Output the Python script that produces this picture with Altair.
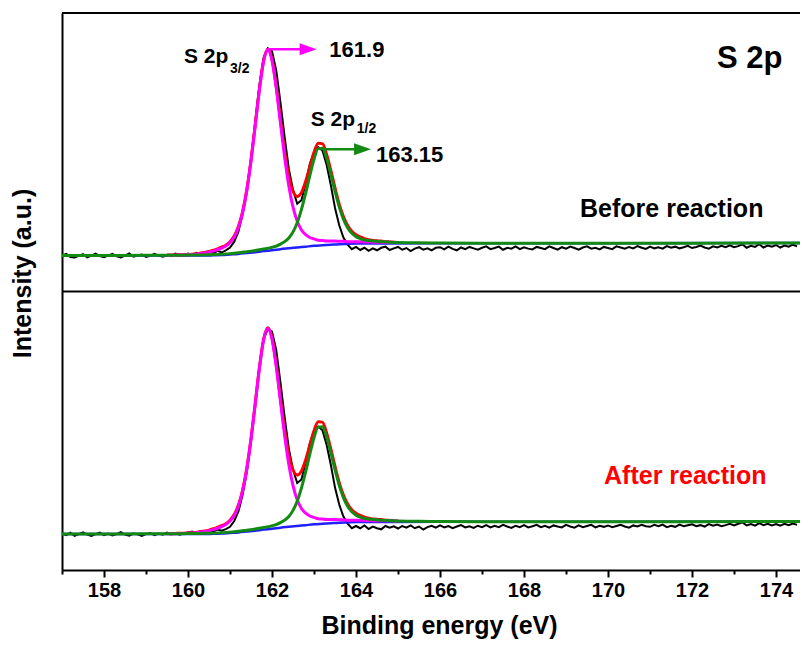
import altair as alt
import numpy as np
import pandas as pd

FONT = "Liberation Sans"
X_MIN, X_MAX = 157.0, 174.57
PANELS = ["Before reaction", "After reaction"]
PANEL_OFFSET = {"Before reaction": 100.0, "After reaction": 0.0}

# raw spectra, 0.1 eV steps starting at 157.0 eV
RAW_BEFORE = [
    12.9, 13.5, 12.4, 12.2, 12.8, 13.4, 12.3, 12.9, 13.6, 12.7,
    12.3, 12.9, 13.5, 12.6, 12.2, 12.9, 13.7, 12.5, 12.9, 13.3,
    12.4, 12.8, 13.5, 12.9, 12.5, 13.1, 12.7, 13.6, 13.2, 12.8,
    13.6, 13.1, 13.9, 13.3, 14.2, 14.4, 13.7, 14.6, 14.0, 14.8,
    15.8, 17.9, 21.5, 27.8, 36.0, 47.5, 60.8, 74.0, 84.0, 87.3,
    86.2, 79.5, 68.0, 55.5, 44.0, 36.5, 31.5, 32.8, 38.6, 45.8,
    50.0, 51.8, 50.6, 45.5, 38.2, 30.0, 23.8, 19.4, 16.8, 15.2,
    16.0, 14.9, 15.7, 14.6, 15.5, 14.8, 15.7, 16.1, 14.9, 15.5,
    16.0, 15.0, 15.6, 14.5, 15.4, 15.9, 15.0, 15.5, 14.8, 15.7,
    15.9, 15.1, 16.1, 15.3, 14.8, 15.8, 15.2, 16.0, 15.5, 15.0,
    15.7, 16.2, 15.2, 15.6, 16.1, 15.0, 15.7, 15.4, 16.2, 15.2,
    15.9, 15.4, 15.1, 16.0, 15.6, 15.2, 16.2, 15.6, 15.0, 15.9,
    15.4, 16.1, 15.6, 15.0, 15.8, 16.2, 15.4, 15.7, 15.1, 16.0,
    15.6, 15.2, 16.2, 15.8, 15.4, 16.0, 15.5, 16.3, 15.7, 15.3,
    16.1, 15.5, 15.9, 15.4, 16.3, 15.7, 16.1, 15.5, 15.9, 16.4,
    15.6, 16.0, 16.5, 15.8, 15.4, 16.2, 15.8, 16.4, 15.9, 16.6,
    15.9, 16.3, 16.9, 15.7, 16.4, 16.0, 17.0, 15.8, 16.5, 16.1,
    16.7, 15.8, 16.5, 16.1, 16.8, 16.2,
]
RAW_AFTER = [
    13.1, 12.5, 13.4, 12.3, 12.9, 13.5, 12.7, 12.2, 12.9, 13.4,
    12.5, 13.1, 12.4, 12.9, 13.6, 12.7, 12.3, 13.1, 12.8, 12.2,
    12.9, 13.3, 12.5, 13.1, 12.7, 13.4, 12.8, 13.3, 12.7, 13.1,
    13.5, 13.8, 13.2, 14.0, 13.6, 14.3, 13.8, 14.5, 14.1, 14.7,
    15.5, 17.6, 21.0, 27.0, 35.2, 46.5, 59.8, 73.0, 83.0, 86.4,
    85.6, 79.0, 67.5, 55.0, 43.6, 36.0, 31.2, 32.5, 38.4, 45.5,
    49.8, 51.5, 50.2, 45.0, 37.8, 29.6, 23.5, 19.2, 16.6, 15.0,
    15.8, 15.0, 16.0, 14.7, 15.6, 15.0, 14.6, 15.8, 15.2, 15.7,
    14.9, 15.8, 15.2, 16.0, 15.0, 15.6, 14.5, 15.4, 15.9, 15.2,
    16.0, 15.3, 15.8, 15.0, 15.6, 16.1, 15.3, 15.7, 15.1, 15.9,
    15.4, 16.1, 15.3, 15.9, 15.4, 16.2, 15.6, 15.1, 15.9, 15.4,
    16.1, 15.3, 15.7, 16.2, 15.4, 15.9, 15.2, 16.0, 15.6, 15.3,
    16.2, 15.6, 15.2, 16.0, 15.4, 15.8, 16.2, 15.3, 15.9, 15.5,
    16.0, 15.4, 15.8, 16.2, 15.6, 15.2, 16.0, 15.6, 16.2, 15.7,
    15.5, 16.2, 15.7, 16.3, 15.4, 15.9, 15.5, 16.3, 15.7, 16.1,
    16.4, 15.7, 16.1, 15.6, 16.5, 15.9, 16.3, 15.7, 16.1, 16.6,
    16.0, 16.6, 17.1, 16.0, 16.5, 15.9, 16.8, 16.1, 16.6, 16.0,
    16.5, 15.9, 16.6, 16.1, 16.7, 16.2,
]

# fitted curves (same fit shape in both panels)
FIT_X = [round(159.5 + 0.1 * i, 1) for i in range(56)]  # 159.5 ... 165.0
P32_FIT = [
    13.0, 13.0, 13.05, 13.1, 13.1, 13.2, 13.3, 13.4, 13.6, 13.8,
    14.1, 14.5, 15.0, 15.6, 16.3, 17.6, 19.5, 22.9, 28.3, 36.2,
    46.9, 59.5, 72.4, 82.6, 86.7, 82.9, 73.1, 60.6, 48.3, 37.9,
    30.3, 25.2, 22.1, 20.4, 19.4, 18.9, 18.4, 18.3, 18.1, 18.1,
    18.1, 18.0, 18.0, 17.9, 17.9, 17.9, 17.9, 17.8, 17.8, 17.7,
    17.7, 17.7, 17.7, 17.7, 17.6, 17.6,
]
ENV_FIT = [
    13.1, 13.1, 13.15, 13.2, 13.2, 13.3, 13.4, 13.5, 13.8, 14.0,
    14.3, 14.8, 15.3, 15.9, 16.6, 17.9, 19.9, 23.3, 28.7, 36.6,
    47.2, 59.8, 72.7, 82.9, 87.0, 83.3, 73.7, 61.8, 50.3, 41.3,
    36.0, 34.1, 35.5, 39.5, 44.8, 50.0, 53.2, 53.1, 49.2, 43.5,
    37.2, 31.4, 26.9, 23.7, 21.6, 20.4, 19.6, 19.0, 18.6, 18.3,
    18.2, 18.1, 17.9, 17.8, 17.7, 17.6,
]
P12_X = [157.0, 158.0, 159.0, 159.5, 160.0, 160.5, 161.0, 161.2, 161.4, 161.5,
         161.6, 161.7, 161.8, 161.9, 162.0, 162.1, 162.2, 162.3, 162.4, 162.5,
         162.6, 162.7, 162.8, 162.9, 163.0, 163.1, 163.2, 163.3, 163.4, 163.5,
         163.6, 163.7, 163.8, 163.9, 164.0, 164.1, 164.2, 164.3, 164.4, 164.5,
         164.6, 164.8, 165.0, 165.5, 166.0, 167.0, 168.0, 170.0, 172.0, 174.0, 174.57]
P12_FIT = [12.9, 12.9, 13.0, 13.0, 13.1, 13.2, 13.6, 13.9, 14.3, 14.5,
           14.7, 15.0, 15.3, 15.5, 15.9, 16.3, 17.0, 17.9, 19.2, 21.4,
           24.7, 29.4, 35.2, 41.6, 47.5, 51.3, 51.4, 47.8, 42.2, 36.0,
           30.4, 26.0, 22.9, 20.9, 19.7, 19.0, 18.5, 18.3, 18.1, 18.0,
           17.9, 17.7, 17.6, 17.5, 17.4, 17.3, 17.3, 17.3, 17.3, 17.4, 17.4]
BG_X = [157.0, 160.4, 160.6, 160.8, 161.0, 161.2, 161.4, 161.6, 161.8, 162.0,
        162.2, 162.4, 162.6, 162.8, 163.0, 163.2, 163.4, 163.6, 163.8, 164.0,
        166.0, 170.0, 174.57]
BG_FIT = [12.9, 12.9, 13.0, 13.1, 13.3, 13.5, 13.8, 14.1, 14.5, 14.8,
          15.2, 15.5, 15.8, 16.1, 16.4, 16.6, 16.8, 17.0, 17.1, 17.2,
          17.3, 17.3, 17.4]

# annotations (data coordinates, top panel already offset)
ARROW_X = [161.87, 163.21]
ARROW_X2 = [162.8, 164.0]
ARROW_Y = [186.97, 151.06]
ARROW_HEAD_X = [162.86, 164.155]
ARROW_COL = ["#ff00ff", "#138a13"]

rows = []
for panel in PANELS:
    off = PANEL_OFFSET[panel]
    raw = RAW_BEFORE if panel == "Before reaction" else RAW_AFTER
    for i, v in enumerate(raw):
        rows.append({"panel": panel, "curve": "raw", "x": round(157.0 + 0.1 * i, 1), "y": v + off})
    for xs, ys, name in [(FIT_X, P32_FIT, "p32"), (FIT_X, ENV_FIT, "env"),
                         (P12_X, P12_FIT, "p12"), (BG_X, BG_FIT, "bg")]:
        for xv, yv in zip(xs, ys):
            rows.append({"panel": panel, "curve": name, "x": xv, "y": yv + off})
df = pd.DataFrame(rows)

x_axis = alt.Axis(
    title="Binding energy (eV)",
    values=list(range(157, 175)),
    labelExpr="datum.value % 2 == 0 ? datum.label : ''",
    tickSize={"condition": {"test": "datum.value % 2 == 0", "value": 7}, "value": 4},
    tickWidth=2, tickColor="black",
    domainColor="black", domainWidth=2,
    labelFont=FONT, labelFontSize=20, labelFontWeight="bold", labelColor="black",
    labelPadding=3, labelOverlap=False, labelFlush=False,
    titleFont=FONT, titleFontSize=25, titleFontWeight="bold", titleColor="black",
    titlePadding=13, titleX=377, grid=False,
)
y_axis = alt.Axis(
    title="Intensity (a.u.)", ticks=False, labels=False, grid=False,
    domainColor="black", domainWidth=2,
    titleFont=FONT, titleFontSize=25, titleFontWeight="bold", titleColor="black",
    titlePadding=27, titleY=260,
)
x_scale = alt.Scale(domain=[X_MIN, X_MAX], nice=False, zero=False)
y_scale = alt.Scale(domain=[0, 200], nice=False, zero=False)
x_enc = alt.X("x:Q", scale=x_scale, axis=x_axis)
y_enc = alt.Y("y:Q", scale=y_scale, axis=y_axis)


def curve(name, color, width, interp="linear"):
    return alt.Chart(df).transform_filter(alt.datum.curve == name).mark_line(
        color=color, strokeWidth=width, clip=True, interpolate=interp
    ).encode(x=x_enc, y=y_enc, detail="panel:N")


raw_l = curve("raw", "black", 2)
bg_l = curve("bg", "#1f1fff", 2.5, "monotone")
env_l = curve("env", "#ff0000", 3, "monotone")
p32_l = curve("p32", "#ff00ff", 3, "monotone")
p12_l = curve("p12", "#138a13", 3, "monotone")

frame = pd.DataFrame({"x": [X_MIN, X_MIN], "x2": [X_MAX, X_MAX], "y": [200.0, 100.0]})
frame_l = alt.Chart(frame).mark_rule(color="black", strokeWidth=2).encode(x=x_enc, x2="x2:Q", y=y_enc)

arr = pd.DataFrame({"x": ARROW_X, "x2": ARROW_X2, "y": ARROW_Y, "c": ARROW_COL})
heads = pd.DataFrame({"x": ARROW_HEAD_X, "y": ARROW_Y, "c": ARROW_COL})
arrow_lines = alt.Chart(arr).mark_rule(strokeWidth=2.5).encode(
    x=x_enc, x2="x2:Q", y=y_enc, color=alt.Color("c:N", scale=None))
arrow_heads = alt.Chart(heads).mark_point(
    shape="M1,0L-1,-0.7L-1,0.7Z", size=289, filled=True, opacity=1, strokeWidth=0
).encode(x=x_enc, y=y_enc, color=alt.Color("c:N", scale=None))


def label(texts, xs, ys, size, color="black", align="left"):
    d = pd.DataFrame({"x": xs, "y": ys, "t": texts})
    return alt.Chart(d).mark_text(
        font=FONT, fontWeight="bold", fontSize=size, color=color, align=align, baseline="alphabetic"
    ).encode(x=x_enc, y=y_enc, text="t:N")


lab_main = label(["S 2p", "S 2p"], [160.96, 163.976], [181.94, 159.43], 21, align="right")
lab_sub = label(["3/2", "1/2"], [161.0, 164.017], [178.56, 156.8], 14)
lab_num = label(["161.9", "163.15"], [163.364, 164.476], [184.09, 146.61], 22)
lab_title = label(["S 2p"], [172.595], [180.14], 31)
lab_before = label(["Before reaction"], [169.333], [126.86], 25)
lab_after = label(["After reaction"], [169.905], [30.77], 25, color="#ff0000")

chart = alt.layer(
    raw_l, bg_l, env_l, p32_l, p12_l, frame_l,
    arrow_lines, arrow_heads,
    lab_main, lab_sub, lab_num, lab_title, lab_before, lab_after,
).properties(
    width=738, height=557,
    padding={"left": 54, "top": 5, "right": 0, "bottom": 70},
    autosize=alt.AutoSizeParams(type="none"),
    background="white",
).configure_view(stroke=None)

chart.save("out.html", embed_options={"renderer": "svg", "actions": False})
